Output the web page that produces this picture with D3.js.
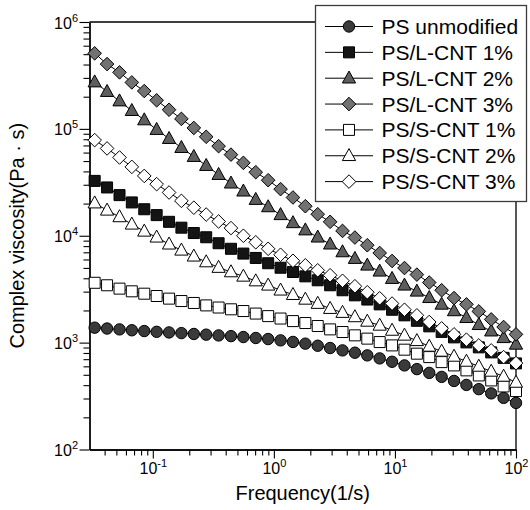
<!DOCTYPE html>
<html>
<head>
<meta charset="utf-8">
<script src="https://cdn.jsdelivr.net/npm/d3@7"></script>
<style>
  html, body { margin: 0; padding: 0; background: #fff; }
  svg text { font-family: "Liberation Sans", Arial, sans-serif; fill: #000; }
</style>
</head>
<body>
<svg id="chart" width="530" height="510"></svg>
<script>
// Angular frequency (1/s)
const frequency = [0.0331, 0.0419, 0.0531, 0.0671, 0.085, 0.1076, 0.1362, 0.1723, 0.2182, 0.2761,
  0.3495, 0.4423, 0.56, 0.7087, 0.8972, 1.136, 1.438, 1.82, 2.303, 2.915,
  3.69, 4.67, 5.911, 7.482, 9.471, 11.99, 15.18, 19.21, 24.31, 30.77,
  38.95, 49.3, 62.41, 78.99, 100];

// Complex viscosity (Pa·s) for each sample
const psUnmodified = [1380, 1355, 1330, 1305, 1283, 1262, 1245, 1228, 1205, 1187,
  1168, 1150, 1128, 1105, 1080, 1050, 1015, 978, 935, 890,
  846, 805, 760, 712, 662, 612, 565, 521, 478, 438,
  402, 367, 335, 304, 273];
const psL1 = [32600, 28300, 24000, 20500, 17700, 15600, 13500, 11900, 10600, 9680,
  8510, 7550, 6810, 6200, 5530, 5020, 4580, 4170, 3830, 3440,
  3090, 2770, 2530, 2280, 2030, 1800, 1600, 1420, 1260, 1120,
  1005, 903, 810, 720, 639];
const psL2 = [274000, 223000, 182000, 148000, 121000, 98400, 81000, 66700, 55000, 45300,
  37300, 31000, 26100, 21800, 18600, 15700, 13200, 11300, 9680, 8330,
  7050, 6110, 5290, 4650, 3970, 3440, 3020, 2630, 2280, 1980,
  1710, 1470, 1280, 1110, 963];
const psL3 = [509000, 404000, 338000, 272000, 226000, 185000, 151000, 124000, 102000, 84300,
  68900, 57400, 48100, 39300, 33100, 27300, 22800, 18900, 15900, 13500,
  11100, 9620, 8150, 6900, 5810, 4990, 4330, 3650, 3090, 2610,
  2280, 1960, 1650, 1400, 1195];
const psS1 = [3630, 3440, 3200, 3020, 2870, 2730, 2580, 2450, 2350, 2230,
  2130, 2050, 1975, 1870, 1770, 1680, 1590, 1525, 1430, 1330,
  1256, 1170, 1090, 1012, 942, 859, 788, 732, 657, 612,
  550, 493, 443, 389, 352];
const psS2 = [20200, 17300, 15000, 12800, 11000, 9680, 8330, 7310, 6430, 5680,
  5040, 4580, 4170, 3770, 3440, 3090, 2810, 2540, 2320, 2080,
  1910, 1740, 1580, 1450, 1300, 1170, 1040, 922, 828, 743,
  667, 599, 538, 483, 424];
const psS3 = [78500, 65600, 54000, 44100, 36300, 30400, 25400, 21200, 18300, 15800,
  13600, 11800, 10000, 8690, 7550, 6640, 5830, 5290, 4750, 4270,
  3790, 3370, 2960, 2600, 2320, 2030, 1800, 1560, 1360, 1195,
  1066, 942, 846, 732, 643];

const seriesNames = ["PS unmodified", "PS/L-CNT 1%", "PS/L-CNT 2%", "PS/L-CNT 3%",
  "PS/S-CNT 1%", "PS/S-CNT 2%", "PS/S-CNT 3%"];
const seriesValues = [psUnmodified, psL1, psL2, psL3, psS1, psS2, psS3];

// Axis tick labels (powers of ten)
const xTickExponents = [-1, 0, 1, 2];
const yTickExponents = [2, 3, 4, 5, 6];

const xTitle = "Frequency(1/s)";
const yTitle = "Complex viscosity(Pa \u00B7 s)";

// ---- marker styles ----
const markerShapes = ["circle", "square", "triangle", "diamond", "square", "triangle", "diamond"];
const markerFills = ["#3a3a3a", "#141414", "#5e5e5e", "#727272", "#ffffff", "#ffffff", "#ffffff"];
const shapePath = {
  circle: "M-5.7,0a5.7,5.7 0 1,0 11.4,0a5.7,5.7 0 1,0 -11.4,0Z",
  square: "M-5.5,-5.5h11v11h-11Z",
  triangle: "M0,-7.2L6.6,4.8H-6.6Z",
  diamond: "M0,-6.8L6.8,0L0,6.8L-6.8,0Z"
};

const svg = d3.select("#chart");
const plotLeft = 89.5, plotRight = 516, plotTop = 22, plotBottom = 449.5;

const x = d3.scaleLog().domain([0.03, 100]).range([plotLeft, plotRight]);
const y = d3.scaleLog().domain([100, 1e6]).range([plotBottom, plotTop]);

const decadeMinors = (lo, hi) => {
  const out = [];
  for (let e = lo; e < hi; e++) for (let k = 2; k <= 9; k++) out.push(k * Math.pow(10, e));
  return out;
};
const xMinor = decadeMinors(-2, 2).filter(v => v > 0.031 && v < 100);
const yMinor = decadeMinors(2, 6);

// frame lines (top and right)
svg.append("path")
  .attr("d", `M${plotLeft},${plotTop}H${plotRight}V${plotBottom}`)
  .attr("fill", "none").attr("stroke", "#000").attr("stroke-width", 1.3);

// x axis
const gx = svg.append("g").attr("transform", `translate(0,${plotBottom})`);
gx.append("g").call(d3.axisBottom(x).tickValues(xMinor).tickSize(6).tickSizeOuter(0).tickFormat(() => ""));
const gxMajor = gx.append("g").call(d3.axisBottom(x).tickValues(xTickExponents.map(e => Math.pow(10, e)))
  .tickSize(9).tickSizeOuter(0).tickFormat(() => ""));
gx.selectAll(".domain").attr("stroke-width", 1.3);
gx.selectAll(".tick line").attr("stroke-width", 1.1);
gxMajor.selectAll(".tick").each(function (d) {
  const t = d3.select(this).append("text")
    .attr("y", 24).attr("text-anchor", "middle").attr("font-size", 16).attr("fill", "#000");
  t.append("tspan").text("10");
  t.append("tspan").attr("dy", -7).attr("font-size", 11).text(String(Math.round(Math.log10(d))));
});

// y axis
const gy = svg.append("g").attr("transform", `translate(${plotLeft},0)`);
gy.append("g").call(d3.axisLeft(y).tickValues(yMinor).tickSize(6).tickSizeOuter(0).tickFormat(() => ""));
const gyMajor = gy.append("g").call(d3.axisLeft(y).tickValues(yTickExponents.map(e => Math.pow(10, e)))
  .tickSize(10).tickSizeOuter(0).tickFormat(() => ""));
gy.selectAll(".domain").attr("stroke-width", 1.3);
gy.selectAll(".tick line").attr("stroke-width", 1.1);
gyMajor.selectAll(".tick").each(function (d) {
  const t = d3.select(this).append("text")
    .attr("x", -11.5).attr("y", 6).attr("text-anchor", "end").attr("font-size", 16).attr("fill", "#000");
  t.append("tspan").text("10");
  t.append("tspan").attr("dy", -7).attr("font-size", 11).text(String(Math.round(Math.log10(d))));
});
svg.selectAll(".tick text").attr("font-family", "Liberation Sans, Arial, sans-serif");

// axis titles
svg.append("text").attr("x", (plotLeft + plotRight) / 2).attr("y", 500)
  .attr("text-anchor", "middle").attr("font-size", 20).text(xTitle);
svg.append("text").attr("transform", `translate(23.5,${(plotTop + plotBottom) / 2}) rotate(-90)`)
  .attr("text-anchor", "middle").attr("font-size", 20).text(yTitle);

// series: connecting line then markers
const line = d3.line().x(d => x(d[0])).y(d => y(d[1]));
seriesValues.forEach((vals, s) => {
  const pts = frequency.map((f, i) => [f, vals[i]]);
  const g = svg.append("g");
  g.append("path").attr("d", line(pts)).attr("fill", "none").attr("stroke", "#000").attr("stroke-width", 1);
  g.selectAll("path.m").data(pts).join("path").attr("class", "m")
    .attr("transform", d => `translate(${x(d[0])},${y(d[1])})`)
    .attr("d", shapePath[markerShapes[s]])
    .attr("fill", markerFills[s]).attr("stroke", "#000").attr("stroke-width", 1);
});

// legend
const lg = svg.append("g");
lg.append("rect").attr("x", 315.5).attr("y", 5.5).attr("width", 211).attr("height", 196)
  .attr("fill", "#fff").attr("stroke", "#3c3c3c").attr("stroke-width", 1.3);
seriesNames.forEach((name, s) => {
  const ry = 26.5 + s * 25.85;
  const row = lg.append("g").attr("transform", `translate(0,${ry})`);
  row.append("line").attr("x1", 325).attr("x2", 373).attr("stroke", "#000").attr("stroke-width", 1);
  row.append("path").attr("transform", "translate(349,0)").attr("d", shapePath[markerShapes[s]])
    .attr("fill", markerFills[s]).attr("stroke", "#000").attr("stroke-width", 1);
  row.append("text").attr("x", 381.5).attr("dy", "0.36em").attr("font-size", 21).text(name);
});
</script>
</body>
</html>
